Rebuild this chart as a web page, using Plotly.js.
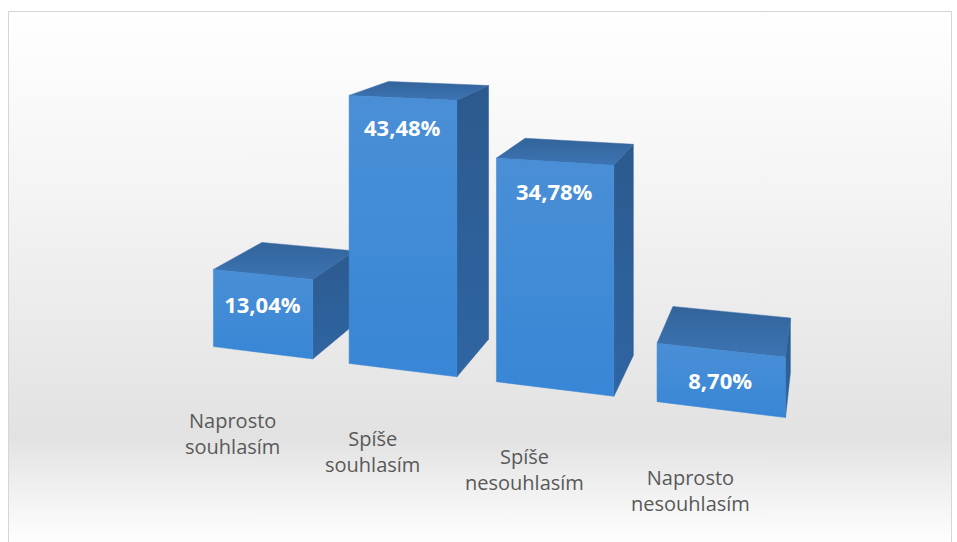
<!DOCTYPE html>
<html><head><meta charset="utf-8">
<script src="https://cdn.plot.ly/plotly-3.0.1.min.js"></script>
<style>
html,body{margin:0;padding:0;background:#fff;width:957px;height:542px;overflow:hidden;}
#frame{position:absolute;left:8px;top:11px;width:942px;height:540px;border:1px solid #d6d6d6;
 background:linear-gradient(to bottom,#ffffff 0px,#f4f4f4 180px,#e2e2e2 425px,#fdfdfd 525px);}
#chart{position:absolute;left:0;top:0;width:957px;height:542px;}
</style></head><body>
<div id="frame"></div><div id="chart"></div>
<script>
// ---- data ----
const categories = ["Naprosto souhlasím", "Spíše souhlasím", "Spíše nesouhlasím", "Naprosto nesouhlasím"];
const values = [13.04, 43.48, 34.78, 8.70];

// ---- simple perspective camera (world: X along categories, Y = value, Z = depth) ----
const W = 957, H = 542;
const CAM = {w0:1.135, a:-0.045, c:0.0953, u0:242.26, ux:138.26, uz:80, v0:393.4, vx:2.75, vy:-6.72, vz:-7.5};
const BAR_W = 0.74, BAR_D = 1;
function proj(X, Y, Z) {
  const w = CAM.w0 + CAM.a * X + CAM.c * Z;
  return [(CAM.u0 + CAM.ux * X + CAM.uz * Z) / w, H - (CAM.v0 + CAM.vx * X + CAM.vy * Y + CAM.vz * Z) / w];
}
function poly(pts) {
  const p = pts.map(q => proj(q[0], q[1], q[2]));
  p.push(p[0]);
  return {x: p.map(q => q[0]), y: p.map(q => q[1])};
}
const fmt = v => v.toFixed(2).replace('.', ',') + '%';

const traces = [];
const annotations = [];
values.forEach((val, i) => {
  const x0 = i, x1 = i + BAR_W;
  const side = poly([[x1,0,0],[x1,0,BAR_D],[x1,val,BAR_D],[x1,val,0]]);
  traces.push({type:'scatter', mode:'lines', x:side.x, y:side.y, fill:'toself',
    line:{width:0.5, color:'#2c5d93'},
    fillgradient:{type:'vertical', colorscale:[[0,'#2f65a3'],[1,'#2c5a8e']]},
    hoverinfo:'skip'});
  const top = poly([[x0,val,0],[x1,val,0],[x1,val,BAR_D],[x0,val,BAR_D]]);
  traces.push({type:'scatter', mode:'lines', x:top.x, y:top.y, fill:'toself',
    line:{width:0.5, color:'#3768a0'},
    fillgradient:{type:'vertical', colorscale:[[0,'#3c74b2'],[1,'#33649b']]},
    hoverinfo:'skip'});
  const front = poly([[x0,0,0],[x1,0,0],[x1,val,0],[x0,val,0]]);
  traces.push({type:'scatter', mode:'lines', x:front.x, y:front.y, fill:'toself',
    line:{width:0.5, color:'#3a86d3'},
    fillgradient:{type:'vertical', colorscale:[[0,'#3886d6'],[1,'#4a8fd6']]},
    hoverinfo:'skip'});
  const tc = proj(x0 + BAR_W / 2, val, 0);
  traces.push({type:'scatter', mode:'text', x:[tc[0]], y:[tc[1] - 33], text:[fmt(val)],
    textposition:'middle center', textfont:{family:'Open Sans, sans-serif', size:22, color:'#ffffff', weight:'bold'},
    hoverinfo:'skip'});
  const bc = proj(x0 + BAR_W / 2, 0, 0);
  annotations.push({xref:'x', yref:'y', x:bc[0] - 30, y:bc[1] - 81, showarrow:false,
    text:categories[i].replace(' ', '<br>'), align:'center',
    font:{family:'Open Sans, sans-serif', size:20, color:'#595959'}});
});

const layout = {
  width:W, height:H, margin:{l:0, r:0, t:0, b:0},
  paper_bgcolor:'rgba(0,0,0,0)', plot_bgcolor:'rgba(0,0,0,0)', showlegend:false,
  xaxis:{range:[0, W], visible:false, fixedrange:true},
  yaxis:{range:[0, H], visible:false, fixedrange:true},
  annotations:annotations
};
Plotly.newPlot('chart', traces, layout, {displayModeBar:false, staticPlot:true});
</script>
</body></html>
